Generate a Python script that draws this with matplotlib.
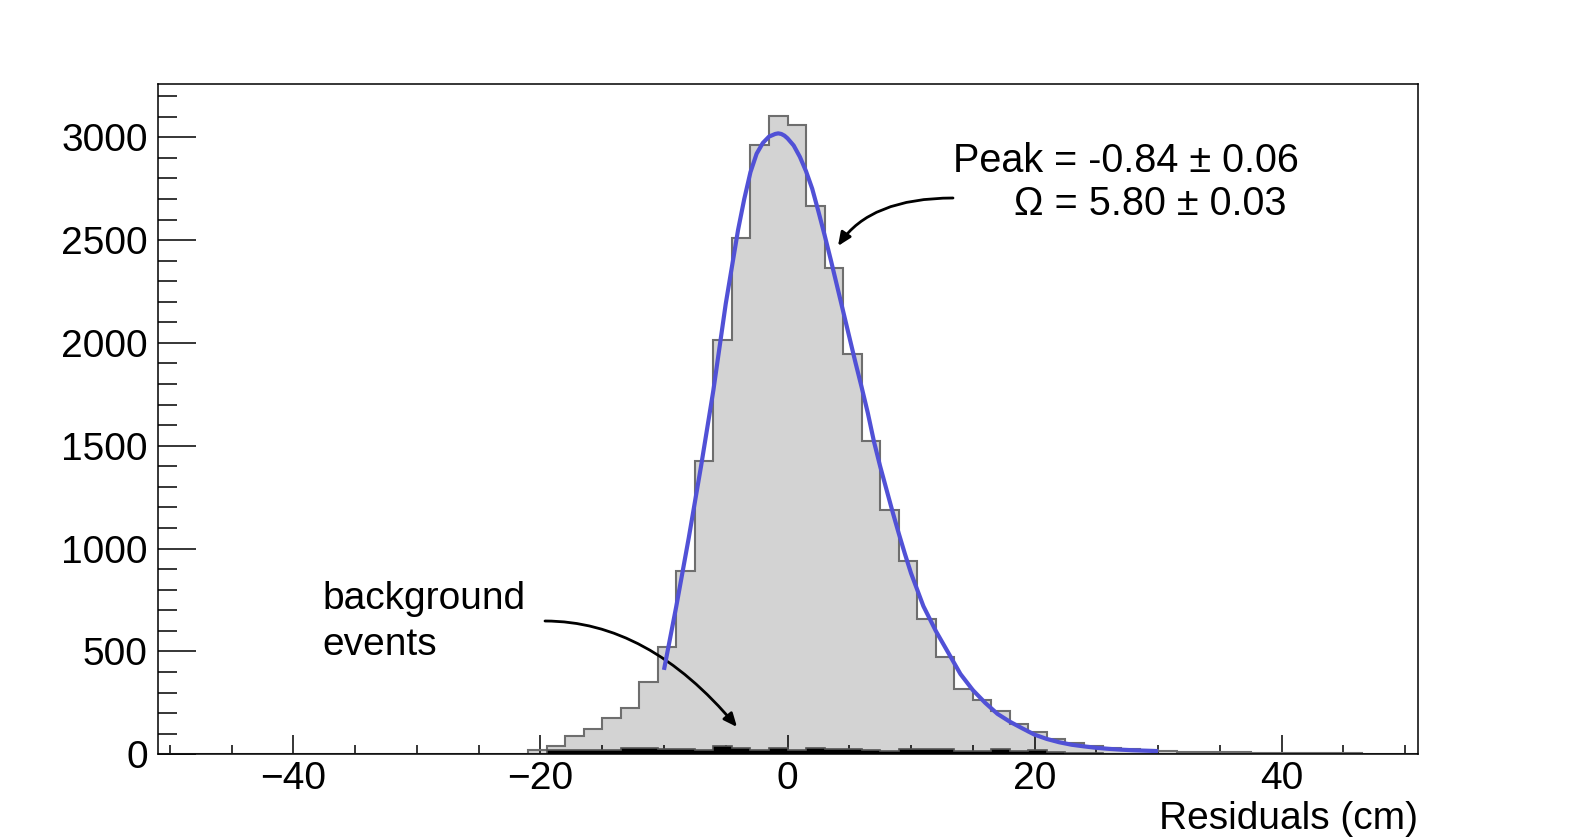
import numpy as np
import matplotlib
matplotlib.use("Agg")
import matplotlib.pyplot as plt

plt.rcParams['font.family'] = ['Liberation Sans', 'DejaVu Sans']

# ---------------- data ----------------
bin_lo, bin_hi, bin_w = -51.0, 51.0, 1.5
signal_counts = [0] * 19 + [
    2, 18, 41, 88, 123, 174, 225, 350, 520, 889,
    1427, 2016, 2509, 2963, 3105, 3060, 2668, 2363, 1946, 1525,
    1188, 941, 658, 474, 317, 264, 208, 147, 106, 74,
    56, 41, 30, 25, 22, 17, 12, 12, 10, 13,
    8, 8, 6, 5, 5, 4, 3, 3, 2]
background_counts = [0] * 21 + [
    20, 20, 22, 22, 30, 28, 25, 25, 20, 38,
    30, 20, 30, 20, 30, 25, 25, 20, 15, 25,
    25, 25, 15, 15, 25, 15, 18, 10, 8, 4] + [0] * 17

fit_x = [-10, -9, -8, -7, -6, -5, -4, -3.5, -3, -2.5, -2, -1.5, -1, -0.75, -0.5,
         -0.25, 0, 0.5, 1, 1.5, 2, 2.5, 3, 3.5, 4, 4.5, 5, 5.5, 6, 6.5, 7, 7.5,
         8, 8.5, 9, 9.5, 10, 11, 12, 13, 14, 15, 16, 17, 18, 19, 20,
         21, 22, 23, 24, 25, 26, 27, 28, 29, 30]
fit_y = [410, 720, 1050, 1400, 1770, 2190, 2550, 2700, 2830, 2920, 2972, 3003, 3016, 3019, 3016,
         3008, 2995, 2960, 2905, 2835, 2750, 2640, 2525, 2405, 2280, 2155, 2030, 1905, 1785, 1660, 1520, 1400,
         1290, 1180, 1075, 975, 880, 720, 600, 495, 390, 312, 250, 196, 158, 126, 95,
         74, 58, 46, 38, 31, 26, 22, 19, 17, 15]

x_ticks = [-40, -20, 0, 20, 40]
y_ticks = [0, 500, 1000, 1500, 2000, 2500, 3000]

fit_text_1 = "Peak = -0.84 \u00b1 0.06"
fit_text_2 = "\u03a9 = 5.80 \u00b1 0.03"
bg_text_1 = "background"
bg_text_2 = "events"
x_label = "Residuals (cm)"

# ---------------- figure ----------------
W, H = 1575, 838
fig = plt.figure(figsize=(W / 100, H / 100), dpi=100)
ax = fig.add_axes([0.1, 0.1, 0.8, 0.8])

edges = np.arange(bin_lo, bin_hi + bin_w / 2, bin_w)
ax.stairs(signal_counts, edges, fill=True, color='#d3d3d3', zorder=1)
ax.stairs(signal_counts, edges, color='#6e6e6e', lw=1.5, zorder=2)
ax.stairs(background_counts, edges, fill=True, color='black', zorder=3)
ax.stairs(background_counts, edges, color='#555555', lw=1.2, zorder=3)
ax.plot(fit_x, fit_y, color='#5151d6', lw=3.0, zorder=4, solid_capstyle='butt')

ax.set_xlim(-51, 51)
ax.set_ylim(0, 3260)
ax.set_xticks(x_ticks)
ax.set_xticks(np.arange(-50, 51, 5), minor=True)
ax.set_yticks(y_ticks)
ax.set_yticks(np.arange(0, 3201, 100), minor=True)

for s in ax.spines.values():
    s.set_linewidth(1.1)
    s.set_zorder(6)

fs = 28
ax.tick_params(axis='both', which='both', direction='in', top=False, right=False,
               width=1.1, labelsize=fs, color='black')
ax.tick_params(axis='x', which='major', length=13.7, pad=5)
ax.tick_params(axis='x', which='minor', length=6.8)
ax.tick_params(axis='y', which='major', length=27, pad=7)
ax.tick_params(axis='y', which='minor', length=13.7)

def fx(px):
    return px / W

def fy(py):
    return 1 - py / H

fig.text(fx(953), fy(171.7), fit_text_1, fontsize=28.5, ha='left', va='baseline')
fig.text(fx(1014), fy(215), fit_text_2, fontsize=28.5, ha='left', va='baseline')
fig.text(fx(322), fy(609.3), bg_text_1, fontsize=fs, ha='left', va='baseline')
fig.text(fx(322), fy(655), bg_text_2, fontsize=fs, ha='left', va='baseline')
fig.text(fx(1418), fy(829), x_label, fontsize=fs, ha='right', va='baseline')

# arrows (figure pixel coordinates)
ax.annotate("", xy=(838, H - 246), xycoords='figure pixels',
            xytext=(953, H - 198), textcoords='figure pixels',
            arrowprops=dict(arrowstyle='-|>,head_length=0.8,head_width=0.35',
                            color='black', lw=2,
                            connectionstyle='angle3,angleA=0,angleB=56',
                            shrinkA=0, shrinkB=0))
ax.annotate("", xy=(737, H - 727), xycoords='figure pixels',
            xytext=(545, H - 621), textcoords='figure pixels',
            arrowprops=dict(arrowstyle='-|>,head_length=0.8,head_width=0.35',
                            color='black', lw=2,
                            connectionstyle='angle3,angleA=0,angleB=-50',
                            shrinkA=0, shrinkB=0))

fig.savefig("out.png", dpi=100)
